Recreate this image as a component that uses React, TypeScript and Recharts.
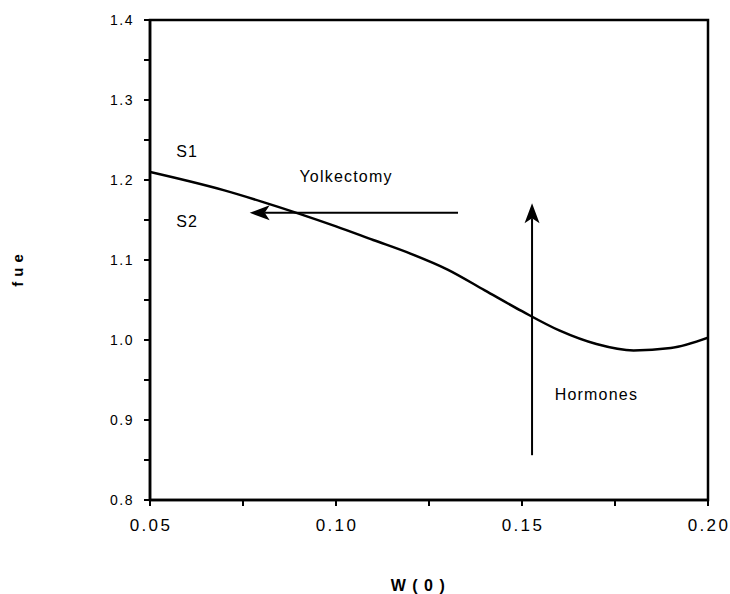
import {
  ComposedChart,
  Line,
  XAxis,
  YAxis,
  ReferenceArea,
  ReferenceLine,
  ReferenceDot,
} from "recharts";

// Curve: fue as a function of W(0).
const W_VALUES = [0.05, 0.06, 0.07, 0.08, 0.09, 0.1, 0.11, 0.12, 0.13, 0.14, 0.15, 0.16, 0.17, 0.18, 0.19, 0.2];
const FUE_VALUES = [1.21, 1.199, 1.187, 1.173, 1.158, 1.142, 1.125, 1.108, 1.088, 1.062, 1.036, 1.012, 0.995, 0.987, 0.99, 1.003];

const X_TICKS = [0.05, 0.075, 0.1, 0.125, 0.15, 0.175, 0.2];
const Y_TICKS = [0.8, 0.85, 0.9, 0.95, 1.0, 1.05, 1.1, 1.15, 1.2, 1.25, 1.3, 1.35, 1.4];

// Annotation arrows: [from, to] in data units.
const YOLK_ARROW: [{ x: number; y: number }, { x: number; y: number }] = [
  { x: 0.1328, y: 1.159 },
  { x: 0.0768, y: 1.159 },
];
const HORMONE_ARROW: [{ x: number; y: number }, { x: number; y: number }] = [
  { x: 0.1527, y: 0.856 },
  { x: 0.1527, y: 1.171 },
];

const NOTES = [
  { x: 0.06, y: 1.236, text: "S1" },
  { x: 0.06, y: 1.148, text: "S2" },
  { x: 0.1027, y: 1.204, text: "Yolkectomy" },
  { x: 0.17, y: 0.932, text: "Hormones" },
];

const FONT = "'Liberation Sans', Arial, Helvetica, sans-serif";

// The chart fills the whole window, so drop the default body margin.
if (typeof document !== "undefined") document.body.style.margin = "0";

const rows = W_VALUES.map((w, i) => ({ w, fue: FUE_VALUES[i] }));

function isMajor(v: number, step: number) {
  const r = v / step;
  return Math.abs(r - Math.round(r)) < 1e-6;
}

function YTick(props: any) {
  const { x, y, payload } = props;
  if (!isMajor(payload.value, 0.1)) return null;
  return (
    <text x={x} y={y} dy="0.35em" textAnchor="end" fontSize={14} fontFamily={FONT} fill="#000" letterSpacing={1.5}>
      {payload.value.toFixed(1)}
    </text>
  );
}

function XTick(props: any) {
  const { x, y, payload } = props;
  if (!isMajor(payload.value, 0.05)) return null;
  return (
    <text x={x + 1} y={y} dy="0.71em" textAnchor="middle" fontSize={17} fontFamily={FONT} fill="#000" letterSpacing={2.3}>
      {payload.value.toFixed(2)}
    </text>
  );
}

function YLabel(props: any) {
  const { viewBox } = props;
  const cx = viewBox.x + 17;
  const cy = viewBox.y + viewBox.height / 2 + 8;
  return (
    <text
      x={cx}
      y={cy}
      transform={`rotate(-90, ${cx}, ${cy})`}
      textAnchor="middle"
      dominantBaseline="central"
      fontFamily={FONT}
      fontSize={15}
      fontWeight="bold"
      letterSpacing={5}
      fill="#000"
    >
      fue
    </text>
  );
}

function XLabel(props: any) {
  const { viewBox } = props;
  const cx = viewBox.x + viewBox.width / 2 - 8;
  const cy = viewBox.y + viewBox.height - 9;
  return (
    <text
      x={cx}
      y={cy}
      textAnchor="middle"
      dominantBaseline="central"
      fontFamily={FONT}
      fontSize={16}
      fontWeight="bold"
      letterSpacing={6.5}
      fill="#000"
    >
      W(0)
    </text>
  );
}

// Line with a filled arrowhead at the (x2, y2) end.
function ArrowShape(props: any) {
  const { x1, y1, x2, y2 } = props;
  const ang = Math.atan2(y2 - y1, x2 - x1);
  const len = 20;
  const half = 7.5;
  const bx = x2 - len * Math.cos(ang);
  const by = y2 - len * Math.sin(ang);
  const nx = -Math.sin(ang);
  const ny = Math.cos(ang);
  const notch = 0.75;
  const mx = x2 - len * notch * Math.cos(ang);
  const my = y2 - len * notch * Math.sin(ang);
  return (
    <g>
      <line x1={x1} y1={y1} x2={mx} y2={my} stroke="#000" strokeWidth={2} />
      <polygon
        points={`${x2},${y2} ${bx + nx * half},${by + ny * half} ${mx},${my} ${bx - nx * half},${by - ny * half}`}
        fill="#000"
      />
    </g>
  );
}

export default function App() {
  return (
    <div style={{ width: 730, height: 594 }}>
      <style>{"body { margin: 0; }"}</style>
      <ComposedChart
        width={730}
        height={594}
        data={rows}
        margin={{ top: 20, right: 22, bottom: 0, left: 0 }}
      >
        <XAxis
          dataKey="w"
          type="number"
          domain={[0.05, 0.2]}
          ticks={X_TICKS}
          tick={<XTick />}
          tickSize={6}
          tickMargin={13}
          height={94}
          axisLine={{ stroke: "#000", strokeWidth: 2.5 }}
          tickLine={{ stroke: "#000", strokeWidth: 2 }}
          allowDataOverflow
          label={<XLabel />}
        />
        <YAxis
          type="number"
          domain={[0.8, 1.4]}
          ticks={Y_TICKS}
          tick={<YTick />}
          tickSize={6}
          tickMargin={10}
          width={150}
          axisLine={{ stroke: "#000", strokeWidth: 2.5 }}
          tickLine={{ stroke: "#000", strokeWidth: 2 }}
          allowDataOverflow
          label={<YLabel />}
        />
        <ReferenceArea x1={0.05} x2={0.2} y1={0.8} y2={1.4} fill="none" stroke="#000" strokeWidth={2.5} />
        <Line
          type="monotone"
          dataKey="fue"
          stroke="#000"
          strokeWidth={2.5}
          dot={false}
          isAnimationActive={false}
        />
        <ReferenceLine segment={YOLK_ARROW} shape={ArrowShape} />
        <ReferenceLine segment={HORMONE_ARROW} shape={ArrowShape} />
        {NOTES.map((n) => (
          <ReferenceDot
            key={n.text}
            x={n.x}
            y={n.y}
            r={0}
            fill="none"
            stroke="none"
            label={{
              value: n.text,
              position: "center",
              style: { fontFamily: FONT, fontSize: 16, letterSpacing: 1.2, fill: "#000" },
            }}
          />
        ))}
      </ComposedChart>
    </div>
  );
}
